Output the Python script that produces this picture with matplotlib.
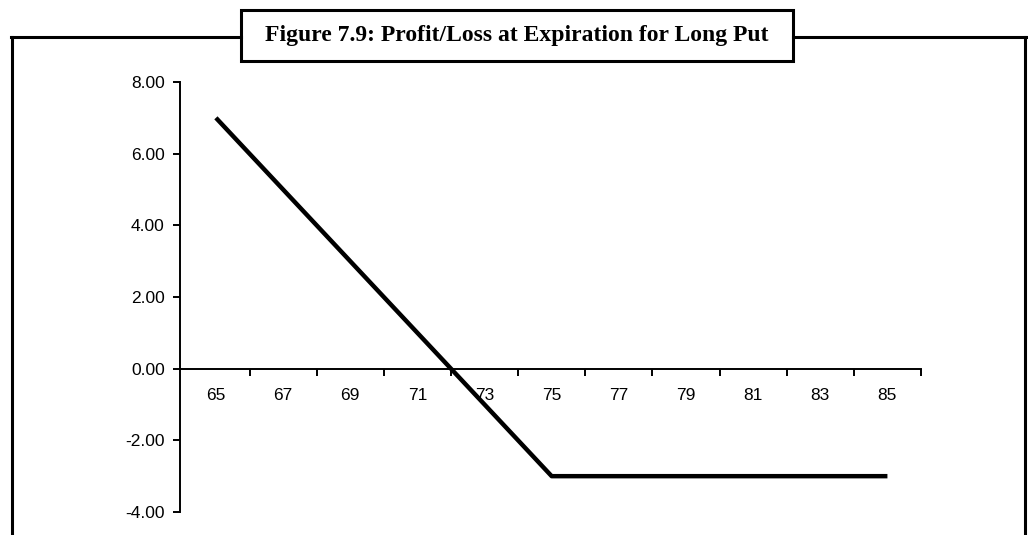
import matplotlib
matplotlib.use("Agg")
import matplotlib.pyplot as plt
from matplotlib.lines import Line2D
from matplotlib.patches import Rectangle

# Data
stock_price = [65, 66, 67, 68, 69, 70, 71, 72, 73, 74, 75,
               76, 77, 78, 79, 80, 81, 82, 83, 84, 85]
profit_loss = [7, 6, 5, 4, 3, 2, 1, 0, -1, -2, -3,
               -3, -3, -3, -3, -3, -3, -3, -3, -3, -3]
x_labels = [65, 67, 69, 71, 73, 75, 77, 79, 81, 83, 85]
x_ticks = [66, 68, 70, 72, 74, 76, 78, 80, 82, 84, 86]
y_ticks = [-4, -2, 0, 2, 4, 6, 8]
title = "Figure 7.9: Profit/Loss at Expiration for Long Put"

W, H = 1028, 535
fig = plt.figure(figsize=(W / 100, H / 100), dpi=100)
fig.patch.set_facecolor("white")

def fx(px):
    return px / W

def fy(py):
    return 1 - py / H

ax = fig.add_axes([fx(180), fy(512), fx(921) - fx(180), fy(82) - fy(512)])
ax.plot(stock_price, profit_loss, color="black", lw=3.2, solid_capstyle="butt")
ax.set_xlim(63.93, 85.98)
ax.set_ylim(-4, 8)

for s in ["top", "right"]:
    ax.spines[s].set_visible(False)
ax.spines["bottom"].set_position(("data", 0))
ax.spines["bottom"].set_linewidth(1.4)
ax.spines["left"].set_linewidth(1.4)

ax.set_yticks(y_ticks)
ax.set_yticklabels([f"{v:.2f}" for v in y_ticks])
ax.tick_params(axis="y", direction="out", length=5, width=1.4, pad=6,
               labelsize=12.5)

ax.set_xticks(x_ticks)
ax.set_xticklabels([])
ax.tick_params(axis="x", which="major", direction="out", length=5, width=1.4)
ax.set_xticks(x_labels, minor=True)
ax.set_xticklabels([str(v) for v in x_labels], minor=True)
ax.tick_params(axis="x", which="minor", length=0, pad=14, labelsize=12.5)

for lab in ax.get_xticklabels(minor=True) + ax.get_yticklabels():
    lab.set_family(["Liberation Sans", "DejaVu Sans"])

# Outer frame
lw_frame = 2.2
fig.add_artist(Line2D([fx(12), fx(12)], [fy(37), 0], color="black", lw=lw_frame))
fig.add_artist(Line2D([fx(1025), fx(1025)], [fy(37), 0], color="black", lw=lw_frame))
fig.add_artist(Line2D([fx(11), fx(241)], [fy(37), fy(37)], color="black", lw=lw_frame))
fig.add_artist(Line2D([fx(793), fx(1026)], [fy(37), fy(37)], color="black", lw=lw_frame))

# Title box
fig.add_artist(Rectangle((fx(241), fy(61)), fx(793) - fx(241), fy(10) - fy(61),
                         facecolor="white", edgecolor="black", lw=lw_frame,
                         transform=fig.transFigure))
fig.text(fx(517), fy(35.5), title, ha="center", va="center",
         fontsize=17, fontweight="bold",
         family=["Liberation Serif", "DejaVu Serif"])

fig.savefig("out.png", dpi=100, facecolor="white")
